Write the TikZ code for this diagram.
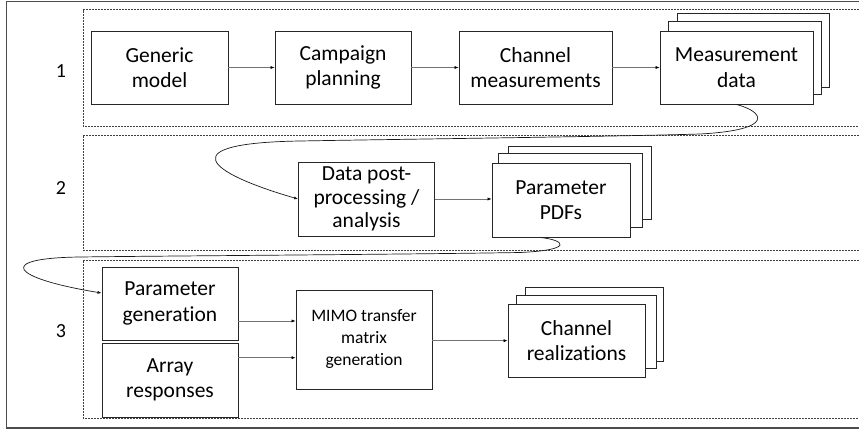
\documentclass[tikz,border=0pt]{standalone}
\usepackage{fontspec}
\setmainfont{Carlito}[Ligatures={NoCommon}]
\usetikzlibrary{arrows.meta,calc}
\begin{document}
\begin{tikzpicture}[x=1pt,y=-1pt,
  box/.style={draw=black!85, line width=0.9pt, fill=white, align=center, inner sep=0pt,
    font=\fontsize{21.5}{25.5}\selectfont},
  stackbox/.style={draw=black!85, line width=0.9pt, fill=white},
  arr/.style={draw=black!55, line width=0.6pt, -{Latex[length=4pt,width=3.2pt,fill=black,color=black]}},
  curv/.style={draw=black!90, line width=0.7pt, -{Latex[length=4pt,width=3.2pt]}},
  zone/.style={draw=black!75, line width=0.6pt, dash pattern=on 2pt off 1pt},
  frame/.style={draw=black!70, line width=1.3pt},
  num/.style={font=\fontsize{20}{24}\selectfont, inner sep=0pt}]
\useasboundingbox (0,0) rectangle (859,431);
\clip (0,0) rectangle (859,431);
% outer frame and zones
\draw[frame] (880,1.5) -- (6.5,1.5) -- (6.5,428) -- (880,428);
\draw[zone] (880,9.5) -- (83.3,9.5) -- (83.3,126) -- (880,126);
\draw[zone] (880,135) -- (83.3,135) -- (83.3,250.7) -- (880,250.7);
\draw[zone] (880,260) -- (83.3,260) -- (83.3,418.3) -- (880,418.3);
% stage numbers
\node[num] (n1) at (61,71.5) {1};
\node[num] (n2) at (61,188.5) {2};
\node[num] (n3) at (61,331) {3};
% row 1
\node[box, minimum width=137pt, minimum height=73pt] (gm) at (159.5,67.5) {Generic\\model};
\node[box, minimum width=136pt, minimum height=73pt] (cp) at (343,67.5) {Campaign\\planning};
\node[box, minimum width=153pt, minimum height=73pt] (cm) at (535.5,67.5) {Channel\\measurements};
\draw[stackbox] (677,13) rectangle (829,87);
\draw[stackbox] (668,21) rectangle (821,94);
\node[box, minimum width=153pt, minimum height=73pt] (md) at (736.5,67.5) {Measurement\\data};
% row 2
\node[box, minimum width=136pt, minimum height=74pt, font=\fontsize{21.5}{23.5}\selectfont] (dp) at (366.5,199) {Data post-\\processing /\\analysis};
\draw[stackbox] (508,146) rectangle (651,219);
\draw[stackbox] (498,153) rectangle (642,227);
\node[box, minimum width=138pt, minimum height=74pt] (pdf) at (561,200) {Parameter\\PDFs};
% row 3
\node[box, minimum width=136pt, minimum height=73pt] (pg) at (170,303.5) {Parameter\\generation};
\node[box, minimum width=136pt, minimum height=74pt] (ar) at (170,380) {Array\\responses};
\node[box, minimum width=136pt, minimum height=99pt, font=\fontsize{17.5}{22}\selectfont] (mimo) at (364,339.5) {MIMO transfer\\matrix\\generation};
\draw[stackbox] (525,287) rectangle (663,361);
\draw[stackbox] (516,295) rectangle (656,368);
\node[box, minimum width=137pt, minimum height=73pt] (cr) at (576.5,340.5) {Channel\\realizations};
% straight connectors
\draw[arr] (gm.east) -- (cp.west);
\draw[arr] (cp.east) -- (cm.west);
\draw[arr] (cm.east) -- (md.west);
\draw[arr] (dp.east) -- (dp.east -| pdf.west);
\coordinate (ya) at (0,321);
\coordinate (yb) at (0,357.7);
\coordinate (yc) at (0,340.7);
\draw[arr] (pg.east |- ya) -- (mimo.west |- ya);
\draw[arr] (ar.east |- yb) -- (mimo.west |- yb);
\draw[arr] (mimo.east |- yc) -- (cr.west |- yc);
% curved connectors
\draw[curv] (md.south) .. controls (765,112) and (775,130) .. (700,134)
  .. controls (620,136.5) and (380,139.5) .. (300,141)
  .. controls (172,143) and (205,172) .. (dp.west);
\draw[curv] ($(pdf.south)+(-21,0)$) .. controls (565,240) and (575,250) .. (520,252.5)
  .. controls (400,254.5) and (150,256) .. (80,257)
  .. controls (-5,258) and (10,278) .. ($(pg.west)+(0,-10.5)$);
\end{tikzpicture}
\end{document}
